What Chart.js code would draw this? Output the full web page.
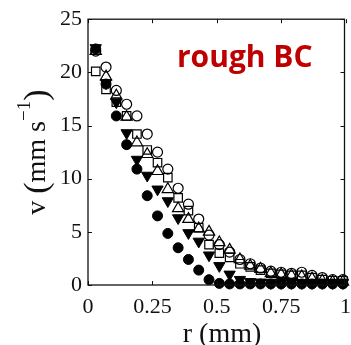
<!DOCTYPE html>
<html>
<head>
<meta charset="utf-8">
<script src="https://cdn.jsdelivr.net/npm/chart.js@4.4.1/dist/chart.umd.min.js"></script>
<style>
  html, body { margin: 0; padding: 0; background: #fff; overflow: hidden; }
  #wrap { width: 360px; height: 345px; }
</style>
</head>
<body>
<div id="wrap"><canvas id="chart"></canvas></div>
<script>
// --- data ---
const radius = [0.03, 0.07, 0.11, 0.15, 0.19, 0.23, 0.27, 0.31, 0.35, 0.39, 0.43, 0.47, 0.51,
                0.55, 0.59, 0.63, 0.67, 0.71, 0.75, 0.79, 0.83, 0.87, 0.91, 0.95, 0.99];

const filledCircles   = [22.2, 18.9, 15.9, 13.2, 10.9, 8.4, 6.5, 4.85, 3.5, 2.4, 1.4, 0.5, 0.15,
                         0.1, 0.1, 0.1, 0.1, 0.1, 0.1, 0.1, 0.1, 0.1, 0.1, 0.1, 0.1];
const filledTriangles = [22.3, 19.0, 17.2, 14.3, 11.8, 10.3, 9.0, 7.9, 6.3, 4.9, 4.1, 2.8, 1.8,
                         1.0, 0.5, 0.3, 0.25, 0.2, 0.2, 0.2, 0.2, 0.2, 0.2, 0.2, 0.2];
const openTriangles   = [22.0, 19.6, 17.8, 15.8, 13.4, 12.3, 10.7, 9.0, 7.2, 6.2, 5.3, 5.0, 4.0,
                         3.3, 2.4, 1.8, 1.5, 1.1, 1.0, 0.9, 0.8, 0.6, 0.4, 0.3, 0.3];
const openSquares     = [20.1, 18.4, 17.2, 15.9, 14.2, 12.7, 11.5, 10.1, 8.2, 7.0, 5.4, 3.8, 3.0,
                         2.6, 2.0, 1.7, 1.4, 1.1, 1.0, 0.9, 0.9, 0.7, 0.5, 0.4, 0.4];
const openCircles     = [22.0, 20.5, 18.3, 17.0, 15.9, 14.2, 12.5, 10.9, 9.1, 7.6, 6.2, 4.7, 3.8,
                         3.1, 2.4, 2.0, 1.6, 1.3, 1.2, 1.1, 1.2, 0.9, 0.7, 0.5, 0.5];

const xTicks = [0, 0.25, 0.5, 0.75, 1];
const yTicks = [0, 5, 10, 15, 20, 25];
// --- end of data ---

const toPoints = ys => radius.map((r, i) => ({ x: r, y: ys[i] }));

const serif = '"Liberation Serif", "Times New Roman", serif';

// frame, inward ticks, axis titles and the label inside the plot
const decorations = {
  id: 'decorations',
  afterDraw(chart) {
    const ctx = chart.ctx;
    const a = chart.chartArea;
    const xs = chart.scales.x, ys = chart.scales.y;
    const right = a.right - 1;
    ctx.save();
    ctx.strokeStyle = '#111';
    ctx.lineWidth = 1.3;
    ctx.strokeRect(a.left, a.top, right - a.left, a.bottom - a.top);
    ctx.lineWidth = 1;
    const tl = 4;
    ctx.beginPath();
    xTicks.forEach(v => {
      const px = Math.round(xs.getPixelForValue(v)) + 0.5;
      ctx.moveTo(px, a.bottom); ctx.lineTo(px, a.bottom - tl);
      ctx.moveTo(px, a.top); ctx.lineTo(px, a.top + tl);
    });
    yTicks.forEach(v => {
      const py = Math.round(ys.getPixelForValue(v)) + 0.5;
      ctx.moveTo(a.left, py); ctx.lineTo(a.left + tl, py);
      ctx.moveTo(right, py); ctx.lineTo(right - tl, py);
    });
    ctx.stroke();

    // x title
    ctx.fillStyle = '#111';
    ctx.font = '28px ' + serif;
    ctx.textAlign = 'center';
    ctx.textBaseline = 'alphabetic';
    ctx.fillText('r (mm)', 222, 342);

    // y title with superscript, rotated
    ctx.translate(45, (a.top + a.bottom) / 2);
    ctx.rotate(-Math.PI / 2);
    const parts = [
      { t: 'v ', f: '28px ', dy: 0 },
      { t: '(', f: '34px ', dy: 2 },
      { t: 'mm s', f: '28px ', dy: 0 },
      { t: '\u22121', f: '19px ', dy: -15 },
      { t: ')', f: '34px ', dy: 2 }
    ];
    let total = 0;
    parts.forEach(p => { ctx.font = p.f + serif; p.w = ctx.measureText(p.t).width; total += p.w; });
    ctx.textAlign = 'left';
    let cx = -total / 2;
    parts.forEach(p => {
      ctx.font = p.f + serif;
      ctx.fillText(p.t, cx, p.dy);
      cx += p.w;
    });
    ctx.restore();

    // annotation
    ctx.save();
    ctx.fillStyle = '#c00000';
    ctx.font = 'bold 30px "Open Sans", sans-serif';
    ctx.textAlign = 'left';
    ctx.textBaseline = 'alphabetic';
    ctx.fillText('rough BC', 177, 67);
    ctx.restore();
  }
};

const openStyle = { backgroundColor: 'rgba(0,0,0,0)', borderColor: '#000', pointBorderWidth: 1.2 };

new Chart(document.getElementById('chart'), {
  type: 'scatter',
  data: {
    datasets: [
      { label: 'filled circles', data: toPoints(filledCircles), pointStyle: 'circle', pointRadius: 5,
        backgroundColor: '#000', borderColor: '#000', clip: false },
      { label: 'filled triangles', data: toPoints(filledTriangles), pointStyle: 'triangle', pointRadius: 6.5,
        pointRotation: 180, backgroundColor: '#000', borderColor: '#000', clip: false },
      Object.assign({ label: 'open triangles', data: toPoints(openTriangles), pointStyle: 'triangle',
        pointRadius: 6.5, clip: false }, openStyle),
      Object.assign({ label: 'open squares', data: toPoints(openSquares), pointStyle: 'rect',
        pointRadius: 6, clip: false }, openStyle),
      Object.assign({ label: 'open circles', data: toPoints(openCircles), pointStyle: 'circle',
        pointRadius: 5, clip: false }, openStyle)
    ]
  },
  options: {
    responsive: true,
    maintainAspectRatio: false,
    animation: false,
    events: [],
    layout: { padding: { top: 17, right: 9, left: 0, bottom: 0 } },
    plugins: { legend: { display: false }, tooltip: { enabled: false } },
    scales: {
      x: {
        type: 'linear', min: 0, max: 1,
        afterFit: s => { s.height = 60; },
        afterBuildTicks: s => { s.ticks = xTicks.map(v => ({ value: v })); },
        grid: { display: false, drawTicks: false }, border: { display: false },
        ticks: { color: '#111', padding: 9, maxRotation: 0, autoSkip: false,
                 font: { family: serif, size: 22 }, callback: v => String(v) }
      },
      y: {
        type: 'linear', min: 0, max: 25,
        afterFit: s => { s.width = 88; },
        afterBuildTicks: s => { s.ticks = yTicks.map(v => ({ value: v })); },
        grid: { display: false, drawTicks: false }, border: { display: false },
        ticks: { color: '#111', padding: 6, font: { family: serif, size: 22 } }
      }
    }
  },
  plugins: [decorations]
});
</script>
</body>
</html>
